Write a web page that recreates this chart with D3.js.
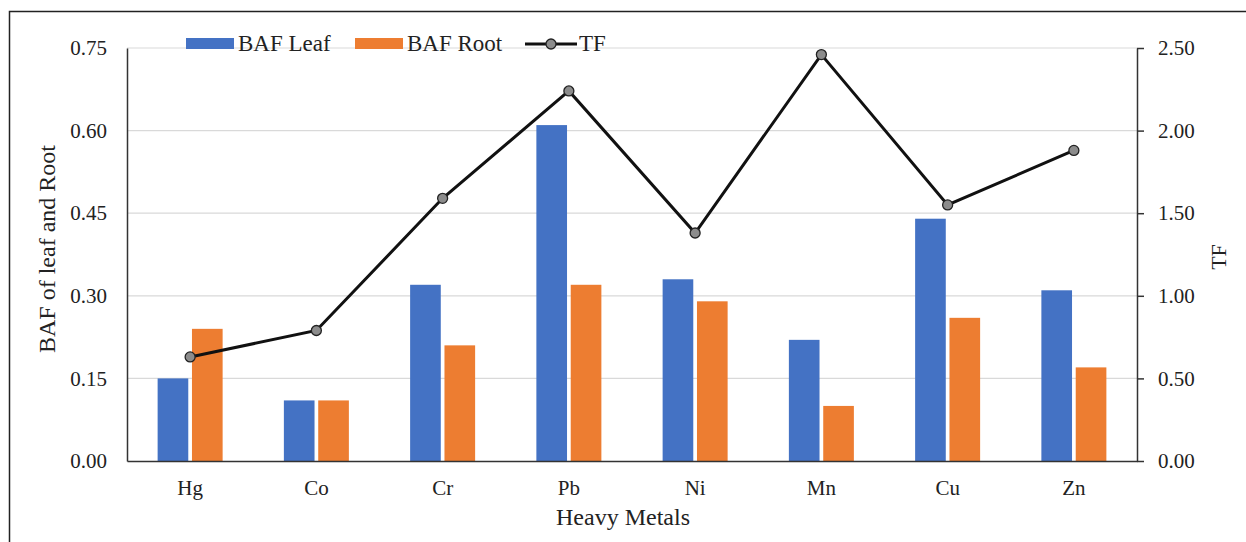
<!DOCTYPE html>
<html><head><meta charset="utf-8">
<script src="https://cdn.jsdelivr.net/npm/d3@7"></script>
<style>body{margin:0;background:#fff}svg{display:block}text{font-family:"Liberation Serif","Times New Roman",serif;fill:#222}</style>
</head><body><svg id="c" width="1246" height="542"></svg>
<script>
const categories = ["Hg","Co","Cr","Pb","Ni","Mn","Cu","Zn"];
const bafLeaf = [0.15,0.11,0.32,0.61,0.33,0.22,0.44,0.31];
const bafRoot = [0.24,0.11,0.21,0.32,0.29,0.10,0.26,0.17];
const tf = [0.63,0.79,1.59,2.24,1.38,2.46,1.55,1.88];
const leftTicks = [0,0.15,0.30,0.45,0.60,0.75];
const rightTicks = [0,0.5,1,1.5,2,2.5];

const svg = d3.select("#c");
svg.append("rect").attr("x",9.5).attr("y",11.5).attr("width",1246).attr("height",560).attr("fill","none").attr("stroke","#222").attr("stroke-width",1.5);
const L=127,R=1137,T=48,B=461;
const x = d3.scaleBand().domain(categories).range([L,R]);
const yL = d3.scaleLinear().domain([0,0.75]).range([B,T]);
const yR = d3.scaleLinear().domain([0,2.5]).range([B,T]);
const FS = 21, TS = 24;

// gridlines
svg.append("g").selectAll("line").data(leftTicks.slice(1)).join("line")
  .attr("x1",L).attr("x2",R).attr("y1",d=>yL(d)).attr("y2",d=>yL(d))
  .attr("stroke","#d9d9d9").attr("stroke-width",1.2);

const bw=29, gap=7;
const xs = d3.scaleBand().domain(["leaf","root"]).range([-(bw+gap/2),bw+gap/2]).paddingInner(gap/(2*bw+gap));
const g = svg.append("g");
categories.forEach((c,i)=>{
  const cx = x(c)+x.bandwidth()/2;
  g.append("rect").attr("x",cx+xs("leaf")).attr("width",xs.bandwidth()).attr("y",yL(bafLeaf[i])).attr("height",B-yL(bafLeaf[i])).attr("fill","#4472c4");
  g.append("rect").attr("x",cx+xs("root")).attr("width",xs.bandwidth()).attr("y",yL(bafRoot[i])).attr("height",B-yL(bafRoot[i])).attr("fill","#ed7d31");
});

// axes
const axL = d3.axisLeft(yL).tickValues(leftTicks).tickFormat(d3.format(".2f")).tickSize(0).tickPadding(20);
const gl = svg.append("g").attr("transform",`translate(${L},0)`).call(axL);
gl.select(".domain").attr("stroke","#333").attr("stroke-width",1.5);
gl.selectAll("text").attr("font-size",FS).style("font-family","Liberation Serif");

const axR = d3.axisRight(yR).tickValues(rightTicks).tickFormat(d3.format(".2f")).tickSizeInner(7).tickSizeOuter(0).tickPadding(14);
const gr = svg.append("g").attr("transform",`translate(${R},0)`).call(axR);
gr.select(".domain").attr("stroke","#333").attr("stroke-width",1.5);
gr.selectAll("line").attr("stroke","#333").attr("stroke-width",1.5);
gr.selectAll("text").attr("font-size",FS).style("font-family","Liberation Serif");

const axB = d3.axisBottom(x).tickSize(0).tickPadding(19);
const gb = svg.append("g").attr("transform",`translate(0,${B})`).call(axB);
gb.select(".domain").attr("stroke","#333").attr("stroke-width",1.5);
gb.selectAll("text").attr("font-size",FS).style("font-family","Liberation Serif");

// TF line
const line = d3.line().x((d,i)=>x(categories[i])+x.bandwidth()/2).y(d=>yR(d));
svg.append("path").datum(tf).attr("d",line).attr("fill","none").attr("stroke","#111").attr("stroke-width",3);
svg.append("g").selectAll("circle").data(tf).join("circle")
  .attr("cx",(d,i)=>x(categories[i])+x.bandwidth()/2).attr("cy",d=>yR(d)).attr("r",5)
  .attr("fill","#8c8c8c").attr("stroke","#222").attr("stroke-width",1.3);

// titles
svg.append("text").attr("transform",`translate(55,249) rotate(-90)`).attr("text-anchor","middle").attr("font-size",TS).text("BAF of leaf and Root");
svg.append("text").attr("transform",`translate(1226,257) rotate(-90)`).attr("text-anchor","middle").attr("font-size",22).text("TF");
svg.append("text").attr("x",623).attr("y",525).attr("text-anchor","middle").attr("font-size",TS).text("Heavy Metals");

// legend
const lg = svg.append("g");
lg.append("rect").attr("x",186).attr("y",38).attr("width",48).attr("height",11).attr("fill","#4472c4");
lg.append("text").attr("x",238).attr("y",51).attr("font-size",23).text("BAF Leaf");
lg.append("rect").attr("x",355).attr("y",38).attr("width",48).attr("height",11).attr("fill","#ed7d31");
lg.append("text").attr("x",407).attr("y",51).attr("font-size",23).text("BAF Root");
lg.append("line").attr("x1",525).attr("x2",577).attr("y1",44).attr("y2",44).attr("stroke","#111").attr("stroke-width",3);
lg.append("circle").attr("cx",551).attr("cy",44).attr("r",5).attr("fill","#8c8c8c").attr("stroke","#222").attr("stroke-width",1.3);
lg.append("text").attr("x",579).attr("y",51).attr("font-size",23).text("TF");
</script></body></html>
